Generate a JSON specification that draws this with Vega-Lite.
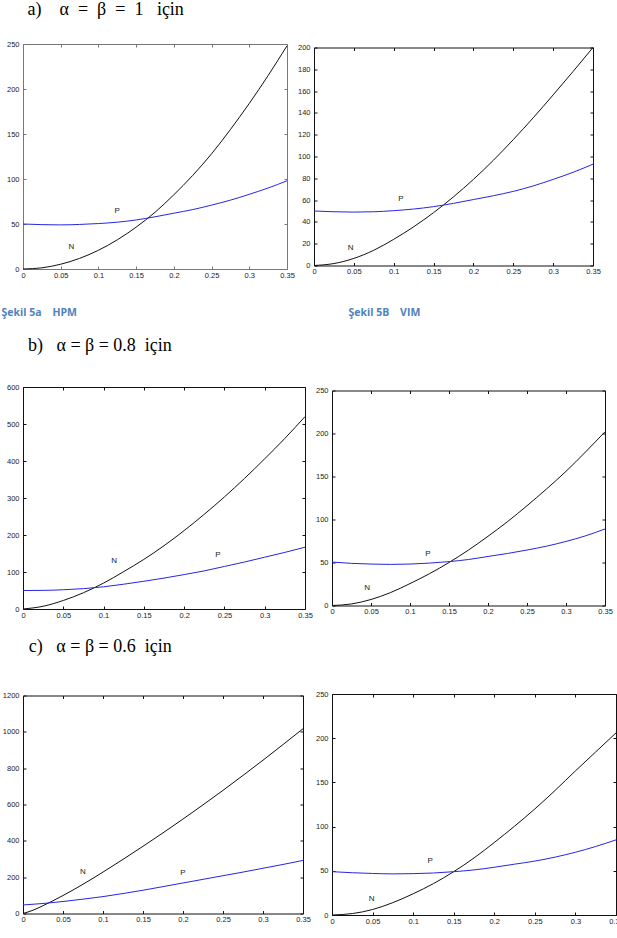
{
  "$schema": "https://vega.github.io/schema/vega-lite/v6.json",
  "background": "white",
  "padding": {"left": 0, "top": 0, "right": 0, "bottom": 0},
  "config": {
    "view": {"stroke": "#111", "strokeWidth": 1},
    "title": {"font": "Liberation Serif", "fontSize": 18, "fontWeight": "normal", "anchor": "start", "color": "#000", "dx": 27},
    "axis": {"grid": false, "domain": false, "labelFont": "Liberation Sans", "labelFontSize": 7.5, "labelColor": "#222", "tickColor": "#111", "tickSize": -3, "labelFlush": false, "labelOverlap": false, "title": null},
    "axisX": {"format": "~g"},
    "axisY": {"format": "d"},
    "text": {"font": "Liberation Sans", "fontSize": 8, "color": "#222"}
  },
  "datasets": {
    "curves": [
      {"p":"aL","s":"N","x":0,"y":0},{"p":"aL","s":"N","x":0.025,"y":1.3},{"p":"aL","s":"N","x":0.05,"y":5.3},{"p":"aL","s":"N","x":0.075,"y":11.8},{"p":"aL","s":"N","x":0.1,"y":20.8},{"p":"aL","s":"N","x":0.125,"y":32.4},{"p":"aL","s":"N","x":0.15,"y":46.5},{"p":"aL","s":"N","x":0.175,"y":63},{"p":"aL","s":"N","x":0.2,"y":82.5},{"p":"aL","s":"N","x":0.225,"y":104},{"p":"aL","s":"N","x":0.25,"y":128},{"p":"aL","s":"N","x":0.275,"y":155},{"p":"aL","s":"N","x":0.3,"y":184},{"p":"aL","s":"N","x":0.325,"y":215},{"p":"aL","s":"N","x":0.35,"y":248},
      {"p":"aL","s":"P","x":0,"y":50},{"p":"aL","s":"P","x":0.025,"y":49.3},{"p":"aL","s":"P","x":0.05,"y":49},{"p":"aL","s":"P","x":0.075,"y":49.5},{"p":"aL","s":"P","x":0.1,"y":50.5},{"p":"aL","s":"P","x":0.125,"y":52},{"p":"aL","s":"P","x":0.15,"y":54.5},{"p":"aL","s":"P","x":0.175,"y":58},{"p":"aL","s":"P","x":0.2,"y":62},{"p":"aL","s":"P","x":0.225,"y":66},{"p":"aL","s":"P","x":0.25,"y":71},{"p":"aL","s":"P","x":0.275,"y":76.5},{"p":"aL","s":"P","x":0.3,"y":83},{"p":"aL","s":"P","x":0.325,"y":90},{"p":"aL","s":"P","x":0.35,"y":98},
      {"p":"aR","s":"N","x":0,"y":0},{"p":"aR","s":"N","x":0.025,"y":1.8},{"p":"aR","s":"N","x":0.05,"y":6.5},{"p":"aR","s":"N","x":0.075,"y":14},{"p":"aR","s":"N","x":0.1,"y":24},{"p":"aR","s":"N","x":0.125,"y":35.5},{"p":"aR","s":"N","x":0.15,"y":48.5},{"p":"aR","s":"N","x":0.175,"y":63},{"p":"aR","s":"N","x":0.2,"y":79},{"p":"aR","s":"N","x":0.225,"y":96.5},{"p":"aR","s":"N","x":0.25,"y":115.5},{"p":"aR","s":"N","x":0.275,"y":135.5},{"p":"aR","s":"N","x":0.3,"y":156.5},{"p":"aR","s":"N","x":0.325,"y":178},{"p":"aR","s":"N","x":0.35,"y":200},
      {"p":"aR","s":"P","x":0,"y":50},{"p":"aR","s":"P","x":0.025,"y":49.3},{"p":"aR","s":"P","x":0.05,"y":49},{"p":"aR","s":"P","x":0.075,"y":49.3},{"p":"aR","s":"P","x":0.1,"y":50.3},{"p":"aR","s":"P","x":0.125,"y":51.8},{"p":"aR","s":"P","x":0.15,"y":54},{"p":"aR","s":"P","x":0.175,"y":57},{"p":"aR","s":"P","x":0.2,"y":60.5},{"p":"aR","s":"P","x":0.225,"y":64},{"p":"aR","s":"P","x":0.25,"y":68},{"p":"aR","s":"P","x":0.275,"y":73},{"p":"aR","s":"P","x":0.3,"y":79},{"p":"aR","s":"P","x":0.325,"y":85.5},{"p":"aR","s":"P","x":0.35,"y":93},
      {"p":"bL","s":"N","x":0,"y":0},{"p":"bL","s":"N","x":0.025,"y":7.4},{"p":"bL","s":"N","x":0.05,"y":23},{"p":"bL","s":"N","x":0.075,"y":44},{"p":"bL","s":"N","x":0.1,"y":70},{"p":"bL","s":"N","x":0.125,"y":101},{"p":"bL","s":"N","x":0.15,"y":134},{"p":"bL","s":"N","x":0.175,"y":171},{"p":"bL","s":"N","x":0.2,"y":212},{"p":"bL","s":"N","x":0.225,"y":256},{"p":"bL","s":"N","x":0.25,"y":303},{"p":"bL","s":"N","x":0.275,"y":353},{"p":"bL","s":"N","x":0.3,"y":406},{"p":"bL","s":"N","x":0.325,"y":461},{"p":"bL","s":"N","x":0.35,"y":520},
      {"p":"bL","s":"P","x":0,"y":50},{"p":"bL","s":"P","x":0.025,"y":50.3},{"p":"bL","s":"P","x":0.05,"y":52},{"p":"bL","s":"P","x":0.075,"y":55},{"p":"bL","s":"P","x":0.1,"y":60},{"p":"bL","s":"P","x":0.125,"y":67},{"p":"bL","s":"P","x":0.15,"y":75},{"p":"bL","s":"P","x":0.175,"y":83.5},{"p":"bL","s":"P","x":0.2,"y":93},{"p":"bL","s":"P","x":0.225,"y":103},{"p":"bL","s":"P","x":0.25,"y":115},{"p":"bL","s":"P","x":0.275,"y":127},{"p":"bL","s":"P","x":0.3,"y":140},{"p":"bL","s":"P","x":0.325,"y":153},{"p":"bL","s":"P","x":0.35,"y":167},
      {"p":"bR","s":"N","x":0,"y":0},{"p":"bR","s":"N","x":0.025,"y":1.8},{"p":"bR","s":"N","x":0.05,"y":7},{"p":"bR","s":"N","x":0.075,"y":15},{"p":"bR","s":"N","x":0.1,"y":25.5},{"p":"bR","s":"N","x":0.125,"y":37},{"p":"bR","s":"N","x":0.15,"y":50},{"p":"bR","s":"N","x":0.175,"y":64.5},{"p":"bR","s":"N","x":0.2,"y":80.5},{"p":"bR","s":"N","x":0.225,"y":97.5},{"p":"bR","s":"N","x":0.25,"y":116},{"p":"bR","s":"N","x":0.275,"y":135.5},{"p":"bR","s":"N","x":0.3,"y":156},{"p":"bR","s":"N","x":0.325,"y":178.5},{"p":"bR","s":"N","x":0.35,"y":202},
      {"p":"bR","s":"P","x":0,"y":50.5},{"p":"bR","s":"P","x":0.025,"y":49},{"p":"bR","s":"P","x":0.05,"y":48.2},{"p":"bR","s":"P","x":0.075,"y":47.8},{"p":"bR","s":"P","x":0.1,"y":48.2},{"p":"bR","s":"P","x":0.125,"y":49.3},{"p":"bR","s":"P","x":0.15,"y":51},{"p":"bR","s":"P","x":0.175,"y":53.5},{"p":"bR","s":"P","x":0.2,"y":57},{"p":"bR","s":"P","x":0.225,"y":60.5},{"p":"bR","s":"P","x":0.25,"y":64.5},{"p":"bR","s":"P","x":0.275,"y":69},{"p":"bR","s":"P","x":0.3,"y":74.5},{"p":"bR","s":"P","x":0.325,"y":81},{"p":"bR","s":"P","x":0.35,"y":89},
      {"p":"cL","s":"N","x":0,"y":0},{"p":"cL","s":"N","x":0.0125,"y":18},{"p":"cL","s":"N","x":0.025,"y":43},{"p":"cL","s":"N","x":0.05,"y":99},{"p":"cL","s":"N","x":0.075,"y":161},{"p":"cL","s":"N","x":0.1,"y":228},{"p":"cL","s":"N","x":0.125,"y":298},{"p":"cL","s":"N","x":0.15,"y":370},{"p":"cL","s":"N","x":0.175,"y":444},{"p":"cL","s":"N","x":0.2,"y":520},{"p":"cL","s":"N","x":0.225,"y":598},{"p":"cL","s":"N","x":0.25,"y":678},{"p":"cL","s":"N","x":0.275,"y":760},{"p":"cL","s":"N","x":0.3,"y":844},{"p":"cL","s":"N","x":0.325,"y":930},{"p":"cL","s":"N","x":0.35,"y":1017},
      {"p":"cL","s":"P","x":0,"y":47},{"p":"cL","s":"P","x":0.025,"y":55},{"p":"cL","s":"P","x":0.05,"y":66},{"p":"cL","s":"P","x":0.075,"y":79},{"p":"cL","s":"P","x":0.1,"y":93},{"p":"cL","s":"P","x":0.125,"y":110},{"p":"cL","s":"P","x":0.15,"y":128},{"p":"cL","s":"P","x":0.175,"y":148},{"p":"cL","s":"P","x":0.2,"y":168},{"p":"cL","s":"P","x":0.225,"y":188},{"p":"cL","s":"P","x":0.25,"y":208},{"p":"cL","s":"P","x":0.275,"y":228},{"p":"cL","s":"P","x":0.3,"y":249},{"p":"cL","s":"P","x":0.325,"y":270},{"p":"cL","s":"P","x":0.35,"y":292},
      {"p":"cR","s":"N","x":0,"y":0},{"p":"cR","s":"N","x":0.025,"y":1.6},{"p":"cR","s":"N","x":0.05,"y":6.2},{"p":"cR","s":"N","x":0.075,"y":14},{"p":"cR","s":"N","x":0.1,"y":24},{"p":"cR","s":"N","x":0.125,"y":35.5},{"p":"cR","s":"N","x":0.15,"y":49},{"p":"cR","s":"N","x":0.175,"y":64.5},{"p":"cR","s":"N","x":0.2,"y":82},{"p":"cR","s":"N","x":0.225,"y":100.5},{"p":"cR","s":"N","x":0.25,"y":120},{"p":"cR","s":"N","x":0.275,"y":141},{"p":"cR","s":"N","x":0.3,"y":163},{"p":"cR","s":"N","x":0.325,"y":184.5},{"p":"cR","s":"N","x":0.35,"y":206},
      {"p":"cR","s":"P","x":0,"y":49},{"p":"cR","s":"P","x":0.025,"y":47.8},{"p":"cR","s":"P","x":0.05,"y":47},{"p":"cR","s":"P","x":0.075,"y":46.5},{"p":"cR","s":"P","x":0.1,"y":46.8},{"p":"cR","s":"P","x":0.125,"y":47.5},{"p":"cR","s":"P","x":0.15,"y":49},{"p":"cR","s":"P","x":0.175,"y":51},{"p":"cR","s":"P","x":0.2,"y":54},{"p":"cR","s":"P","x":0.225,"y":57.5},{"p":"cR","s":"P","x":0.25,"y":61},{"p":"cR","s":"P","x":0.275,"y":65.5},{"p":"cR","s":"P","x":0.3,"y":71},{"p":"cR","s":"P","x":0.325,"y":77.5},{"p":"cR","s":"P","x":0.35,"y":85}
    ],
    "labels": [
      {"p":"aL","t":"P","x":0.125,"y":64},{"p":"aL","t":"N","x":0.064,"y":24},
      {"p":"aR","t":"P","x":0.109,"y":61},{"p":"aR","t":"N","x":0.046,"y":16},
      {"p":"bL","t":"N","x":0.113,"y":130},{"p":"bL","t":"P","x":0.242,"y":147},
      {"p":"bR","t":"P","x":0.123,"y":60},{"p":"bR","t":"N","x":0.045,"y":20},
      {"p":"cL","t":"N","x":0.075,"y":229},{"p":"cL","t":"P","x":0.2,"y":224},
      {"p":"cR","t":"P","x":0.121,"y":61},{"p":"cR","t":"N","x":0.049,"y":18}
    ]
  },
  "spacing": 18,
  "vconcat": [
    {
      "title": {"text": "a)\u00a0\u00a0\u00a0\u00a0α\u00a0\u00a0=\u00a0\u00a0β\u00a0\u00a0=\u00a0\u00a01\u00a0\u00a0\u00a0için", "offset": 21},
      "hconcat": [
        {
          "width": 264, "height": 225,
          "view": {"stroke": "#777"},
          "layer": [
            {"data": {"name": "curves"}, "transform": [{"filter": "datum.p === 'aL'"}],
             "mark": {"type": "line", "interpolate": "monotone", "strokeWidth": 1},
             "encoding": {
               "x": {"field": "x", "type": "quantitative", "scale": {"domain": [0, 0.35], "nice": false},
                     "axis": {"values": [0,0.05,0.1,0.15,0.2,0.25,0.3,0.35], "labelPadding": 5, "tickColor": "#777",
                              "title": "Şekil 5a\u00a0\u00a0\u00a0\u00a0HPM", "titleFont": "Open Sans", "titleFontWeight": "bold", "titleFontSize": 10.5, "titleColor": "#4f81bd", "titleAnchor": "start", "titleAlign": "left", "titleX": -22, "titleY": 46, "titleBaseline": "alphabetic"}},
               "y": {"field": "y", "type": "quantitative", "scale": {"domain": [0, 250], "nice": false},
                     "axis": {"values": [0,50,100,150,200,250], "labelPadding": 7, "tickColor": "#777"}},
               "color": {"field": "s", "type": "nominal", "scale": {"domain": ["N","P"], "range": ["#111111","#2626e0"]}, "legend": null}
             }},
            {"data": {"name": "labels"}, "transform": [{"filter": "datum.p === 'aL'"}],
             "mark": {"type": "text", "color": "#222"},
             "encoding": {
               "x": {"field": "x", "type": "quantitative", "axis": {"orient": "top", "labels": false, "values": [0,0.05,0.1,0.15,0.2,0.25,0.3,0.35], "tickColor": "#777"}},
               "y": {"field": "y", "type": "quantitative", "axis": {"orient": "right", "labels": false, "values": [0,50,100,150,200,250], "tickColor": "#777"}},
               "text": {"field": "t"}
             }}
          ],
          "resolve": {"axis": {"x": "independent", "y": "independent"}}
        },
        {
          "width": 279, "height": 218,
          "layer": [
            {"data": {"name": "curves"}, "transform": [{"filter": "datum.p === 'aR'"}],
             "mark": {"type": "line", "interpolate": "monotone", "strokeWidth": 1},
             "encoding": {
               "x": {"field": "x", "type": "quantitative", "scale": {"domain": [0, 0.35], "nice": false},
                     "axis": {"values": [0,0.05,0.1,0.15,0.2,0.25,0.3,0.35], "labelPadding": 5,
                              "title": "Şekil 5B\u00a0\u00a0\u00a0\u00a0VIM", "titleFont": "Open Sans", "titleFontWeight": "bold", "titleFontSize": 10.5, "titleColor": "#4f81bd", "titleAnchor": "start", "titleAlign": "left", "titleX": 34, "titleY": 49.5, "titleBaseline": "alphabetic"}},
               "y": {"field": "y", "type": "quantitative", "scale": {"domain": [0, 200], "nice": false},
                     "axis": {"values": [0,20,40,60,80,100,120,140,160,180,200], "labelPadding": 7}},
               "color": {"field": "s", "type": "nominal", "scale": {"domain": ["N","P"], "range": ["#111111","#2626e0"]}, "legend": null}
             }},
            {"data": {"name": "labels"}, "transform": [{"filter": "datum.p === 'aR'"}],
             "mark": {"type": "text", "color": "#222"},
             "encoding": {
               "x": {"field": "x", "type": "quantitative", "axis": {"orient": "top", "labels": false, "values": [0,0.05,0.1,0.15,0.2,0.25,0.3,0.35]}},
               "y": {"field": "y", "type": "quantitative", "axis": {"orient": "right", "labels": false, "values": [0,20,40,60,80,100,120,140,160,180,200]}},
               "text": {"field": "t"}
             }}
          ],
          "resolve": {"axis": {"x": "independent", "y": "independent"}}
        }
      ],
      "spacing": 27, "bounds": "flush", "center": true
    },
    {
      "title": {"text": "b)\u00a0\u00a0\u00a0α = β = 0.8\u00a0\u00a0için", "offset": 28, "dx": 22},
      "hconcat": [
        {
          "width": 282, "height": 222,
          "layer": [
            {"data": {"name": "curves"}, "transform": [{"filter": "datum.p === 'bL'"}],
             "mark": {"type": "line", "interpolate": "monotone", "strokeWidth": 1},
             "encoding": {
               "x": {"field": "x", "type": "quantitative", "scale": {"domain": [0, 0.35], "nice": false},
                     "axis": {"values": [0,0.05,0.1,0.15,0.2,0.25,0.3,0.35], "labelPadding": 5}},
               "y": {"field": "y", "type": "quantitative", "scale": {"domain": [0, 600], "nice": false},
                     "axis": {"values": [0,100,200,300,400,500,600], "labelPadding": 7}},
               "color": {"field": "s", "type": "nominal", "scale": {"domain": ["N","P"], "range": ["#111111","#2626e0"]}, "legend": null}
             }},
            {"data": {"name": "labels"}, "transform": [{"filter": "datum.p === 'bL'"}],
             "mark": {"type": "text", "color": "#222"},
             "encoding": {
               "x": {"field": "x", "type": "quantitative", "axis": {"orient": "top", "labels": false, "values": [0,0.05,0.1,0.15,0.2,0.25,0.3,0.35]}},
               "y": {"field": "y", "type": "quantitative", "axis": {"orient": "right", "labels": false, "values": [0,100,200,300,400,500,600]}},
               "text": {"field": "t"}
             }}
          ],
          "resolve": {"axis": {"x": "independent", "y": "independent"}}
        },
        {
          "width": 273, "height": 215,
          "layer": [
            {"data": {"name": "curves"}, "transform": [{"filter": "datum.p === 'bR'"}],
             "mark": {"type": "line", "interpolate": "monotone", "strokeWidth": 1},
             "encoding": {
               "x": {"field": "x", "type": "quantitative", "scale": {"domain": [0, 0.35], "nice": false},
                     "axis": {"values": [0,0.05,0.1,0.15,0.2,0.25,0.3,0.35], "labelPadding": 5}},
               "y": {"field": "y", "type": "quantitative", "scale": {"domain": [0, 250], "nice": false},
                     "axis": {"values": [0,50,100,150,200,250], "labelPadding": 7}},
               "color": {"field": "s", "type": "nominal", "scale": {"domain": ["N","P"], "range": ["#111111","#2626e0"]}, "legend": null}
             }},
            {"data": {"name": "labels"}, "transform": [{"filter": "datum.p === 'bR'"}],
             "mark": {"type": "text", "color": "#222"},
             "encoding": {
               "x": {"field": "x", "type": "quantitative", "axis": {"orient": "top", "labels": false, "values": [0,0.05,0.1,0.15,0.2,0.25,0.3,0.35]}},
               "y": {"field": "y", "type": "quantitative", "axis": {"orient": "right", "labels": false, "values": [0,50,100,150,200,250]}},
               "text": {"field": "t"}
             }}
          ],
          "resolve": {"axis": {"x": "independent", "y": "independent"}}
        }
      ],
      "spacing": 27, "bounds": "flush", "center": true
    },
    {
      "title": {"text": "c)\u00a0\u00a0\u00a0α = β = 0.6\u00a0\u00a0için", "offset": 34},
      "hconcat": [
        {
          "width": 280, "height": 218,
          "layer": [
            {"data": {"name": "curves"}, "transform": [{"filter": "datum.p === 'cL'"}],
             "mark": {"type": "line", "interpolate": "monotone", "strokeWidth": 1},
             "encoding": {
               "x": {"field": "x", "type": "quantitative", "scale": {"domain": [0, 0.35], "nice": false},
                     "axis": {"values": [0,0.05,0.1,0.15,0.2,0.25,0.3,0.35], "labelPadding": 5}},
               "y": {"field": "y", "type": "quantitative", "scale": {"domain": [0, 1200], "nice": false},
                     "axis": {"values": [0,200,400,600,800,1000,1200], "labelPadding": 7}},
               "color": {"field": "s", "type": "nominal", "scale": {"domain": ["N","P"], "range": ["#111111","#2626e0"]}, "legend": null}
             }},
            {"data": {"name": "labels"}, "transform": [{"filter": "datum.p === 'cL'"}],
             "mark": {"type": "text", "color": "#222"},
             "encoding": {
               "x": {"field": "x", "type": "quantitative", "axis": {"orient": "top", "labels": false, "values": [0,0.05,0.1,0.15,0.2,0.25,0.3,0.35]}},
               "y": {"field": "y", "type": "quantitative", "axis": {"orient": "right", "labels": false, "values": [0,200,400,600,800,1000,1200]}},
               "text": {"field": "t"}
             }}
          ],
          "resolve": {"axis": {"x": "independent", "y": "independent"}}
        },
        {
          "width": 284, "height": 221,
          "layer": [
            {"data": {"name": "curves"}, "transform": [{"filter": "datum.p === 'cR'"}],
             "mark": {"type": "line", "interpolate": "monotone", "strokeWidth": 1},
             "encoding": {
               "x": {"field": "x", "type": "quantitative", "scale": {"domain": [0, 0.35], "nice": false},
                     "axis": {"values": [0,0.05,0.1,0.15,0.2,0.25,0.3,0.35], "labelPadding": 5}},
               "y": {"field": "y", "type": "quantitative", "scale": {"domain": [0, 250], "nice": false},
                     "axis": {"values": [0,50,100,150,200,250], "labelPadding": 7}},
               "color": {"field": "s", "type": "nominal", "scale": {"domain": ["N","P"], "range": ["#111111","#2626e0"]}, "legend": null}
             }},
            {"data": {"name": "labels"}, "transform": [{"filter": "datum.p === 'cR'"}],
             "mark": {"type": "text", "color": "#222"},
             "encoding": {
               "x": {"field": "x", "type": "quantitative", "axis": {"orient": "top", "labels": false, "values": [0,0.05,0.1,0.15,0.2,0.25,0.3,0.35]}},
               "y": {"field": "y", "type": "quantitative", "axis": {"orient": "right", "labels": false, "values": [0,50,100,150,200,250]}},
               "text": {"field": "t"}
             }}
          ],
          "resolve": {"axis": {"x": "independent", "y": "independent"}}
        }
      ],
      "spacing": 29, "bounds": "flush", "center": true
    }
  ]
}
